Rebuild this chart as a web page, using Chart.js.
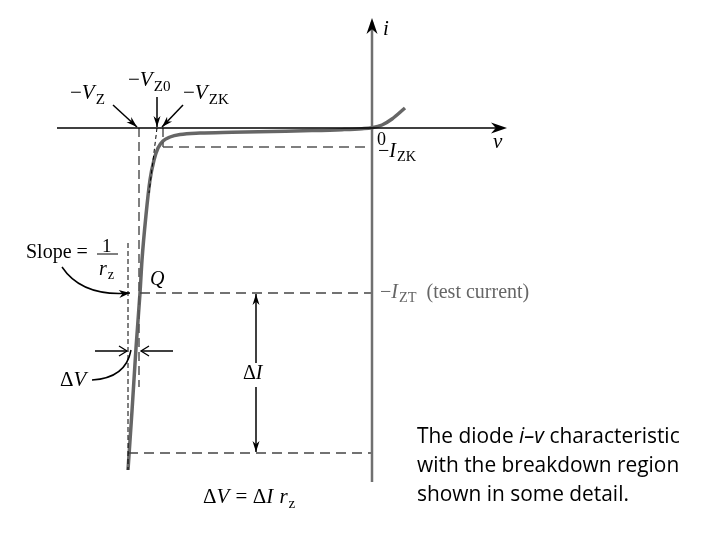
<!DOCTYPE html>
<html><head><meta charset="utf-8">
<script src="https://cdn.jsdelivr.net/npm/chart.js@4/dist/chart.umd.min.js"></script>
<style>html,body{margin:0;padding:0;background:#fff;overflow:hidden}</style>
</head><body>
<canvas id="c" width="720" height="540" style="width:720px;height:540px;display:block"></canvas>
<script>
// ---- data (v in arbitrary volts-like units, i in arbitrary current units) ----
const curveV = [-24.4, -24.0, -23.6, -23.2, -23.0, -22.6, -22.2, -21.8, -21.4, -20.9, -20.2, -19.2, -17.2, -14.0, -10.0, -6.0, -3.0, -1.0, 0.0, 1.0, 2.0, 3.3];
const curveI = [-34.2, -28.3, -22.0, -16.5, -13.2, -8.7, -5.2, -3.2, -2.0, -1.3, -0.9, -0.65, -0.5, -0.42, -0.34, -0.26, -0.17, -0.07, 0.03, 0.3, 0.9, 2.0];

const vZ = -23.3, vZ0 = -21.5, vZK = -20.9, vBottom = -24.4;
const iZK = -1.9, iZT = -16.5, iBottom = -32.5;

const refVZ      = { v: [vZ, vZ],           i: [0, -25.9] };
const refDV      = { v: [vBottom, vBottom], i: [-11.5, -34.2] };
const refVZK     = { v: [vZK, vZK],         i: [0, iZK] };
const refIZK     = { v: [vZK, 0],           i: [iZK, iZK] };
const refIZT     = { v: [-23.2, 0],         i: [iZT, iZT] };
const refBottom  = { v: [vBottom, 0],       i: [iBottom, iBottom] };
const refTangent = { v: [vZ0, -22.3],       i: [0, -6.5] };
const axisV      = { v: [-31.5, 13.0],      i: [0, 0] };
const axisI      = { v: [0, 0],             i: [-35.4, 10.6] };

const pts = (v, i) => v.map((x, k) => ({ x, y: i[k] }));

// annotation arrows (data units): [v0, i0, v1, i1, style]
const arrows = [
  [-31.5, 0, 13.5, 0, 'axis'],
  [0, -35.4, 0, 11.0, 'axis'],
  [-25.9, 2.3, -23.5, 0.1, 'fill'],
  [vZ0, 3.1, vZ0, 0.1, 'fill'],
  [-18.9, 2.3, -21.0, 0.1, 'fill'],
  [-27.7, -22.3, -24.5, -22.3, 'open'],
  [-19.9, -22.3, -23.1, -22.3, 'open'],
  [-11.6, -23.5, -11.6, -16.6, 'fill'],
  [-11.6, -25.9, -11.6, -32.4, 'fill']
];
// curved leaders: [v0,i0, cv,ci, v1,i1, arrowhead]
const curves = [
  [-31.0, -13.9, -29.0, -16.9, -24.2, -16.5, true],
  [-28.0, -25.2, -24.6, -25.0, -24.1, -22.2, false]
];
// text labels: anchor (data units), size, parts [text, 'i' italic | 's' subscript | 'n']
const labels = [
  { v: -30.2, i: 2.9, size: 21, parts: [['−', 'n'], ['V', 'i'], ['Z', 's']] },
  { v: -24.4, i: 4.2, size: 21, parts: [['−', 'n'], ['V', 'i'], ['Z0', 's']] },
  { v: -18.9, i: 2.9, size: 21, parts: [['−', 'n'], ['V', 'i'], ['ZK', 's']] },
  { v: 1.1, i: 9.3, size: 21, parts: [['i', 'i']] },
  { v: 12.1, i: -2.0, size: 21, parts: [['v', 'i']] },
  { v: 0.5, i: -1.7, size: 18, parts: [['0', 'n']] },
  { v: 0.6, i: -2.9, size: 20, parts: [['−', 'n'], ['I', 'i'], ['ZK', 's']] },
  { v: 0.8, i: -17.0, size: 20, color: '#666', parts: [['−', 'n'], ['I', 'i'], ['ZT', 's'], ['  (test current)', 'n']] },
  { v: -34.6, i: -13.0, size: 20, parts: [['Slope =', 'n']] },
  { v: -27.0, i: -12.4, size: 19, parts: [['1', 'n']] },
  { v: -27.3, i: -14.7, size: 20, parts: [['r', 'i'], ['z', 's']] },
  { v: -22.2, i: -15.7, size: 20, parts: [['Q', 'i']] },
  { v: -31.2, i: -25.8, size: 21, parts: [['Δ', 'n'], ['V', 'i']] },
  { v: -12.9, i: -25.1, size: 20, parts: [['Δ', 'n'], ['I', 'i']] },
  { v: -16.9, i: -37.5, size: 21, parts: [['Δ', 'n'], ['V', 'i'], [' = Δ', 'n'], ['I', 'i'], [' ', 'n'], ['r', 'i'], ['z', 's']] }
];
const fracBar = [-27.5, -25.4, -12.6];
const caption = ['The diode ', 'i–v', ' characteristic', 'with the breakdown region', 'shown in some detail.'];

const dashed = (d, color, w, dash) => ({
  data: pts(d.v, d.i), showLine: true, borderColor: color, borderWidth: w,
  borderDash: dash, pointRadius: 0, fill: false
});

const overlay = {
  id: 'overlay',
  afterDatasetsDraw(chart) {
    const ctx = chart.ctx, X = v => chart.scales.x.getPixelForValue(v), Y = i => chart.scales.y.getPixelForValue(i);
    ctx.save();
    function head(x0, y0, x1, y1, len, hw, style, color) {
      const a = Math.atan2(y1 - y0, x1 - x0), c = Math.cos(a), s = Math.sin(a);
      const bx = x1 - c * len, by = y1 - s * len;
      ctx.beginPath();
      ctx.moveTo(bx - s * hw, by + c * hw); ctx.lineTo(x1, y1); ctx.lineTo(bx + s * hw, by - c * hw);
      if (style === 'open') { ctx.strokeStyle = color; ctx.lineWidth = 1.3; ctx.stroke(); }
      else { ctx.lineTo(x1 - c * len * 0.7, y1 - s * len * 0.7); ctx.closePath(); ctx.fillStyle = color; ctx.fill(); }
    }
    for (const [v0, i0, v1, i1, st] of arrows) {
      const x0 = X(v0), y0 = Y(i0), x1 = X(v1), y1 = Y(i1);
      if (st !== 'axis') {
        ctx.beginPath(); ctx.moveTo(x0, y0); ctx.lineTo(x1, y1);
        ctx.strokeStyle = '#000'; ctx.lineWidth = 1.5; ctx.stroke();
        head(x0, y0, x1, y1, st === 'open' ? 8 : 11, st === 'open' ? 5 : 3.5, st, '#000');
      } else {
        head(x0, y0, x1, y1, 16, 5.5, 'fill', '#000');
      }
    }
    for (const [v0, i0, cv, ci, v1, i1, h] of curves) {
      ctx.beginPath(); ctx.moveTo(X(v0), Y(i0)); ctx.quadraticCurveTo(X(cv), Y(ci), X(v1), Y(i1));
      ctx.strokeStyle = '#000'; ctx.lineWidth = 1.5; ctx.stroke();
      if (h) head(X(cv), Y(ci), X(v1), Y(i1), 11, 4, 'fill', '#000');
    }
    // fraction bar
    ctx.beginPath(); ctx.moveTo(X(fracBar[0]), Y(fracBar[2])); ctx.lineTo(X(fracBar[1]), Y(fracBar[2]));
    ctx.strokeStyle = '#000'; ctx.lineWidth = 1; ctx.stroke();
    // labels
    ctx.textBaseline = 'alphabetic';
    for (const L of labels) {
      let x = X(L.v); const y = Y(L.i);
      for (const [t, st] of L.parts) {
        const sz = st === 's' ? L.size * 0.72 : L.size;
        ctx.font = (st === 'i' ? 'italic ' : '') + sz + 'px "Liberation Serif"';
        ctx.fillStyle = L.color || '#000';
        ctx.fillText(t, x, y + (st === 's' ? L.size * 0.22 : 0));
        x += ctx.measureText(t).width + (st === 'i' ? 1 : 0);
      }
    }
    // caption
    const fam = '"Open Sans"';
    ctx.font = '20px ' + fam;
    const base = ctx.measureText(caption[0] + caption[1] + caption[2]).width;
    const fs = 20 * 264 / base;
    const cx = 417, lh = 29.2, cy = 443;
    let x = cx;
    ctx.fillStyle = '#000';
    [[caption[0], ''], [caption[1], 'italic '], [caption[2], '']].forEach(([t, st]) => {
      ctx.font = st + fs + 'px ' + fam; ctx.fillText(t, x, cy); x += ctx.measureText(t).width;
    });
    ctx.font = fs + 'px ' + fam;
    ctx.fillText(caption[3], cx, cy + lh);
    ctx.fillText(caption[4], cx, cy + 2 * lh);
    ctx.restore();
  }
};

new Chart(document.getElementById('c'), {
  type: 'scatter',
  data: {
    datasets: [
      dashed(axisV, '#000', 1.5, []),
      dashed(axisI, '#707070', 2.5, []),
      dashed(refVZ, '#555', 1.5, [9, 5]),
      dashed(refDV, '#000', 1, [5, 3]),
      dashed(refVZK, '#555', 1.5, [9, 5]),
      dashed(refIZK, '#555', 1.5, [10, 6]),
      dashed(refIZT, '#444', 1.5, [10, 6]),
      dashed(refBottom, '#444', 1.5, [10, 6]),
      dashed(refTangent, '#000', 1, [4, 3]),
      { data: pts(curveV, curveI), showLine: true, borderColor: '#666', borderWidth: 3.5,
        pointRadius: 0, cubicInterpolationMode: 'monotone', fill: false }
    ]
  },
  options: {
    responsive: false, animation: false, devicePixelRatio: 1,
    layout: { padding: 0 },
    plugins: { legend: { display: false }, tooltip: { enabled: false } },
    scales: {
      x: { type: 'linear', min: -37.2, max: 34.8, display: false },
      y: { type: 'linear', min: -41.2, max: 12.8, display: false }
    }
  },
  plugins: [overlay]
});
</script>
</body></html>
